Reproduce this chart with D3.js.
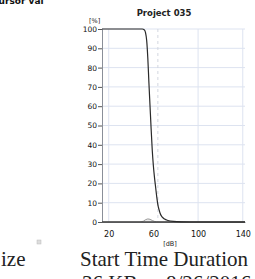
<!DOCTYPE html>
<html lang="en">
<head>
  <meta charset="UTF-8">
  <title>Project 035</title>
  <script src="https://d3js.org/d3.v7.min.js"></script>
  <style>
    body { margin: 0; background: #fff; overflow: hidden; }
    svg { display: block; }
    .tick text { font-family: "DejaVu Sans", Verdana, sans-serif; fill: #111; }
  </style>
</head>
<body>
  <div id="chart"></div>
  <script>
    // data
    const dbMain = [14, 30, 50, 52, 53, 54, 55, 56, 57, 58, 59, 60, 61, 62, 63, 64, 65, 66, 68, 70, 73, 78, 85, 100, 142];
    const pctMain = [100, 100, 100, 99.5, 98, 94, 85, 72, 60, 48, 37, 29, 23, 18, 13, 9, 6.5, 4.5, 2.5, 1.5, 0.8, 0.3, 0.1, 0, 0];
    const dbSecond = [14, 48, 51, 53, 55, 57, 59, 61, 63, 142];
    const pctSecond = [0, 0, 0.4, 1.2, 1.6, 1.4, 0.8, 0.3, 0, 0];
    const yTicks = [0, 10, 20, 30, 40, 50, 60, 70, 80, 90, 100];
    const xTicks = [20, 60, 100, 140];
    const cursorDb = 64;

    const width = 255, height = 279;
    const svg = d3.select("#chart").append("svg")
      .attr("width", width).attr("height", height);

    const x = d3.scaleLinear().domain([14, 142]).range([102, 245]);
    const y = d3.scaleLinear().domain([0, 100]).range([222, 29]);

    // cut-off header text
    svg.append("text")
      .attr("x", -8).attr("y", 4)
      .attr("font-family", "DejaVu Sans, sans-serif")
      .attr("font-weight", "bold").attr("font-size", 9)
      .attr("fill", "#111")
      .text("Cursor val");

    svg.append("text")
      .attr("x", 164).attr("y", 16)
      .attr("text-anchor", "middle")
      .attr("font-family", "DejaVu Sans, sans-serif")
      .attr("font-weight", "bold").attr("font-size", 8.5)
      .attr("fill", "#222")
      .text("Project 035");

    // grid
    svg.append("g").selectAll("line")
      .data(yTicks.filter(d => d > 0))
      .join("line")
      .attr("x1", x(14)).attr("x2", x(142))
      .attr("y1", d => y(d)).attr("y2", d => y(d))
      .attr("stroke", "#dde3f0").attr("stroke-width", 1);

    svg.append("g").selectAll("line")
      .data([20, 100, 140])
      .join("line")
      .attr("x1", d => x(d)).attr("x2", d => x(d))
      .attr("y1", y(100)).attr("y2", y(0))
      .attr("stroke", "#dde3f0").attr("stroke-width", 1);

    // cursor
    svg.append("line")
      .attr("x1", x(cursorDb)).attr("x2", x(cursorDb))
      .attr("y1", y(100)).attr("y2", y(0))
      .attr("stroke", "#d3d7e0").attr("stroke-dasharray", "3,3");

    // axes
    const yAxis = d3.axisLeft(y).tickValues(yTicks).tickSize(4).tickPadding(1);
    const gy = svg.append("g").attr("transform", `translate(${x(14)},0)`).call(yAxis);
    gy.select(".domain").attr("stroke", "#8a8f99");
    gy.selectAll(".tick line").attr("stroke", "#555");
    gy.selectAll(".tick text").attr("font-size", 7.5);

    const xAxis = d3.axisBottom(x).tickValues(xTicks).tickSize(0).tickPadding(9);
    const gx = svg.append("g").attr("transform", `translate(0,${y(0)})`).call(xAxis);
    gx.select(".domain").attr("stroke", "#8a8f99");
    gx.selectAll(".tick text").attr("font-size", 8);

    svg.append("text")
      .attr("x", 89).attr("y", 23)
      .attr("font-family", "DejaVu Sans, sans-serif").attr("font-size", 6.5)
      .attr("fill", "#222").text("[%]");

    svg.append("text")
      .attr("x", 170).attr("y", 246)
      .attr("text-anchor", "middle")
      .attr("font-family", "DejaVu Sans, sans-serif").attr("font-size", 6.5)
      .attr("fill", "#222").text("[dB]");

    // series
    const line = d3.line().x(d => x(d[0])).y(d => y(d[1]));
    svg.append("path")
      .datum(d3.zip(dbSecond, pctSecond))
      .attr("fill", "#e6e6e6").attr("fill-opacity", 0.8)
      .attr("stroke", "#9a9a9a").attr("stroke-width", 1)
      .attr("d", line);

    svg.append("line")
      .attr("x1", x(14)).attr("x2", x(142))
      .attr("y1", y(0)).attr("y2", y(0))
      .attr("stroke", "#444").attr("stroke-width", 1.3);

    svg.append("path")
      .datum(d3.zip(dbMain, pctMain))
      .attr("fill", "none")
      .attr("stroke", "#2a2a2a").attr("stroke-width", 1.2)
      .attr("d", line.curve(d3.curveMonotoneX));

    // document text below
    const serif = "Liberation Serif, Times New Roman, serif";
    svg.append("text").attr("x", 1).attr("y", 266)
      .attr("font-family", serif).attr("font-size", 21).attr("fill", "#222").text("ize");
    svg.append("text").attr("x", 80).attr("y", 266)
      .attr("font-family", serif).attr("font-size", 21).attr("fill", "#222").text("Start Time Duration");
    svg.append("text").attr("x", 82).attr("y", 290)
      .attr("font-family", serif).attr("font-size", 21).attr("fill", "#222").text("36 KB");
    svg.append("text").attr("x", 166).attr("y", 290)
      .attr("font-family", serif).attr("font-size", 21).attr("fill", "#222").text("8/26/2016");

    svg.append("rect").attr("x", 37).attr("y", 240).attr("width", 4).attr("height", 4)
      .attr("fill", "#ddd").attr("stroke", "#bbb").attr("stroke-width", 0.5);
  </script>
</body>
</html>
